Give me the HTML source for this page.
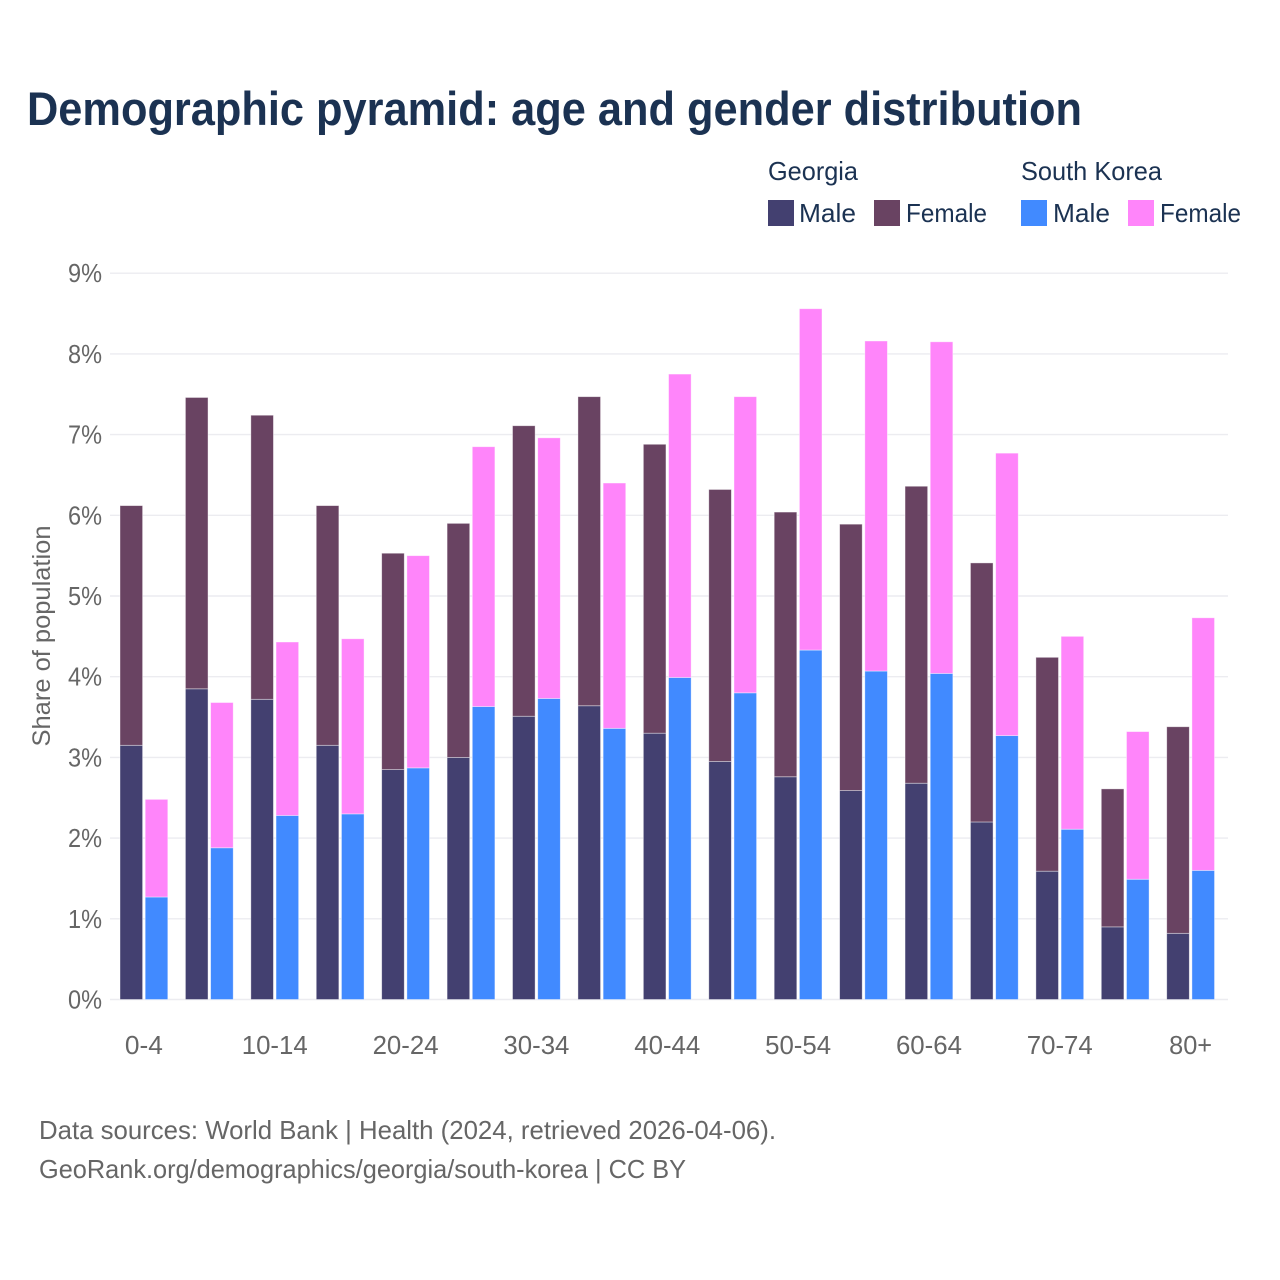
<!DOCTYPE html>
<html>
<head>
<meta charset="utf-8">
<style>
html,body{margin:0;padding:0;background:#fff;width:1280px;height:1280px;overflow:hidden}
svg{display:block}
text{font-family:"Liberation Sans",sans-serif}
</style>
</head>
<body>
<svg id="chart" width="1280" height="1280" viewBox="0 0 1280 1280" xmlns="http://www.w3.org/2000/svg">
<rect x="0" y="0" width="1280" height="1280" fill="#ffffff"/>
<text x="27" y="125" font-size="47" font-weight="700" fill="#1b3252" textLength="1055" lengthAdjust="spacingAndGlyphs">Demographic pyramid: age and gender distribution</text>

<g id="grid"></g>
<g id="bars"></g>
<g id="yticks"></g>
<g id="xticks"></g>
<text transform="translate(50,636) rotate(-90)" text-anchor="middle" font-size="25" fill="#666666" textLength="221" lengthAdjust="spacingAndGlyphs">Share of population</text>

<g>
<text x="768" y="180" font-size="26" fill="#1b3252" textLength="90" lengthAdjust="spacingAndGlyphs">Georgia</text>
<text x="1021" y="180" font-size="26" fill="#1b3252" textLength="141" lengthAdjust="spacingAndGlyphs">South Korea</text>
<rect x="768" y="200" width="26" height="26" fill="#434070"/>
<text x="799" y="222" font-size="26" fill="#1b3252" textLength="57" lengthAdjust="spacingAndGlyphs">Male</text>
<rect x="874" y="200" width="26" height="26" fill="#694362"/>
<text x="906" y="222" font-size="26" fill="#1b3252" textLength="81" lengthAdjust="spacingAndGlyphs">Female</text>
<rect x="1021" y="200" width="26" height="26" fill="#418aff"/>
<text x="1053" y="222" font-size="26" fill="#1b3252" textLength="57" lengthAdjust="spacingAndGlyphs">Male</text>
<rect x="1128" y="200" width="26" height="26" fill="#ff85fa"/>
<text x="1160" y="222" font-size="26" fill="#1b3252" textLength="81" lengthAdjust="spacingAndGlyphs">Female</text>
</g>

<text x="39" y="1139" font-size="26" fill="#666666" textLength="737" lengthAdjust="spacingAndGlyphs">Data sources: World Bank | Health (2024, retrieved 2026-04-06).</text>
<text x="39" y="1178" font-size="26" fill="#666666" textLength="647" lengthAdjust="spacingAndGlyphs">GeoRank.org/demographics/georgia/south-korea | CC BY</text>

<script>
var categories = ['0-4','5-9','10-14','15-19','20-24','25-29','30-34','35-39','40-44','45-49','50-54','55-59','60-64','65-69','70-74','75-79','80+'];
var georgiaMale = [3.15,3.85,3.72,3.15,2.85,3.00,3.51,3.64,3.30,2.95,2.76,2.59,2.68,2.20,1.59,0.90,0.82];
var georgiaFemale = [2.97,3.61,3.52,2.97,2.68,2.90,3.60,3.83,3.58,3.37,3.28,3.30,3.68,3.21,2.65,1.71,2.56];
var koreaMale = [1.27,1.88,2.28,2.30,2.87,3.63,3.73,3.36,3.99,3.80,4.33,4.07,4.04,3.27,2.11,1.49,1.60];
var koreaFemale = [1.21,1.80,2.15,2.17,2.63,3.22,3.23,3.04,3.76,3.67,4.23,4.09,4.11,3.50,2.39,1.83,3.13];
var yTicks = [0,1,2,3,4,5,6,7,8,9];
var xTickLabels = ['0-4','10-14','20-24','30-34','40-44','50-54','60-64','70-74','80+'];

var NS = 'http://www.w3.org/2000/svg';
function yScale(v){ return 999.5 - v * 80.7; }
function groupLeft(i){ return 120 + i * 65.42; }
var BAR_W = 22.6, BAR_GAP = 2.6;

function addBar(x, v0, v1, fill, name){
  var r = document.createElementNS(NS, 'rect');
  r.setAttribute('x', x);
  r.setAttribute('y', yScale(v1));
  r.setAttribute('width', BAR_W);
  r.setAttribute('height', yScale(v0) - yScale(v1));
  r.setAttribute('fill', fill);
  r.setAttribute('stroke', '#ffffff');
  r.setAttribute('stroke-opacity', '0.5');
  r.setAttribute('stroke-width', '0.8');
  
  
  document.getElementById('bars').appendChild(r);
}

yTicks.forEach(function(t){
  var l = document.createElementNS(NS, 'line');
  l.setAttribute('x1', 110);
  l.setAttribute('x2', 1228);
  l.setAttribute('y1', yScale(t));
  l.setAttribute('y2', yScale(t));
  l.setAttribute('stroke', '#ececf0');
  l.setAttribute('stroke-width', '1.4');
  
  
  document.getElementById('grid').appendChild(l);

  var s = document.createElementNS(NS, 'text');
  s.setAttribute('x', 102);
  s.setAttribute('y', yScale(t) + 9);
  s.setAttribute('text-anchor', 'end');
  s.setAttribute('font-size', '26');
  s.setAttribute('fill', '#666666');
  s.setAttribute('textLength', '34');
  s.setAttribute('lengthAdjust', 'spacingAndGlyphs');
  
  
  s.textContent = t + '%';
  document.getElementById('yticks').appendChild(s);
});

categories.forEach(function(c, i){
  var x = groupLeft(i);
  addBar(x, 0, georgiaMale[i], '#434070', 'bar-georgia-male-' + c);
  addBar(x, georgiaMale[i], georgiaMale[i] + georgiaFemale[i], '#694362', 'bar-georgia-female-' + c);
  var x2 = x + BAR_W + BAR_GAP;
  addBar(x2, 0, koreaMale[i], '#418aff', 'bar-south-korea-male-' + c);
  addBar(x2, koreaMale[i], koreaMale[i] + koreaFemale[i], '#ff85fa', 'bar-south-korea-female-' + c);
  var idx = xTickLabels.indexOf(c);
  if (idx >= 0) {
    var s = document.createElementNS(NS, 'text');
    s.setAttribute('x', x + BAR_W + BAR_GAP / 2);
    s.setAttribute('y', 1054);
    s.setAttribute('text-anchor', 'middle');
    s.setAttribute('font-size', '26');
    s.setAttribute('fill', '#666666');
    s.setAttribute('textLength', c.length > 3 ? '66' : (c === '0-4' ? '38' : '43'));
    s.setAttribute('lengthAdjust', 'spacingAndGlyphs');
    
    
    s.textContent = c;
    document.getElementById('xticks').appendChild(s);
  }
});
</script>
</svg>
</body>
</html>
